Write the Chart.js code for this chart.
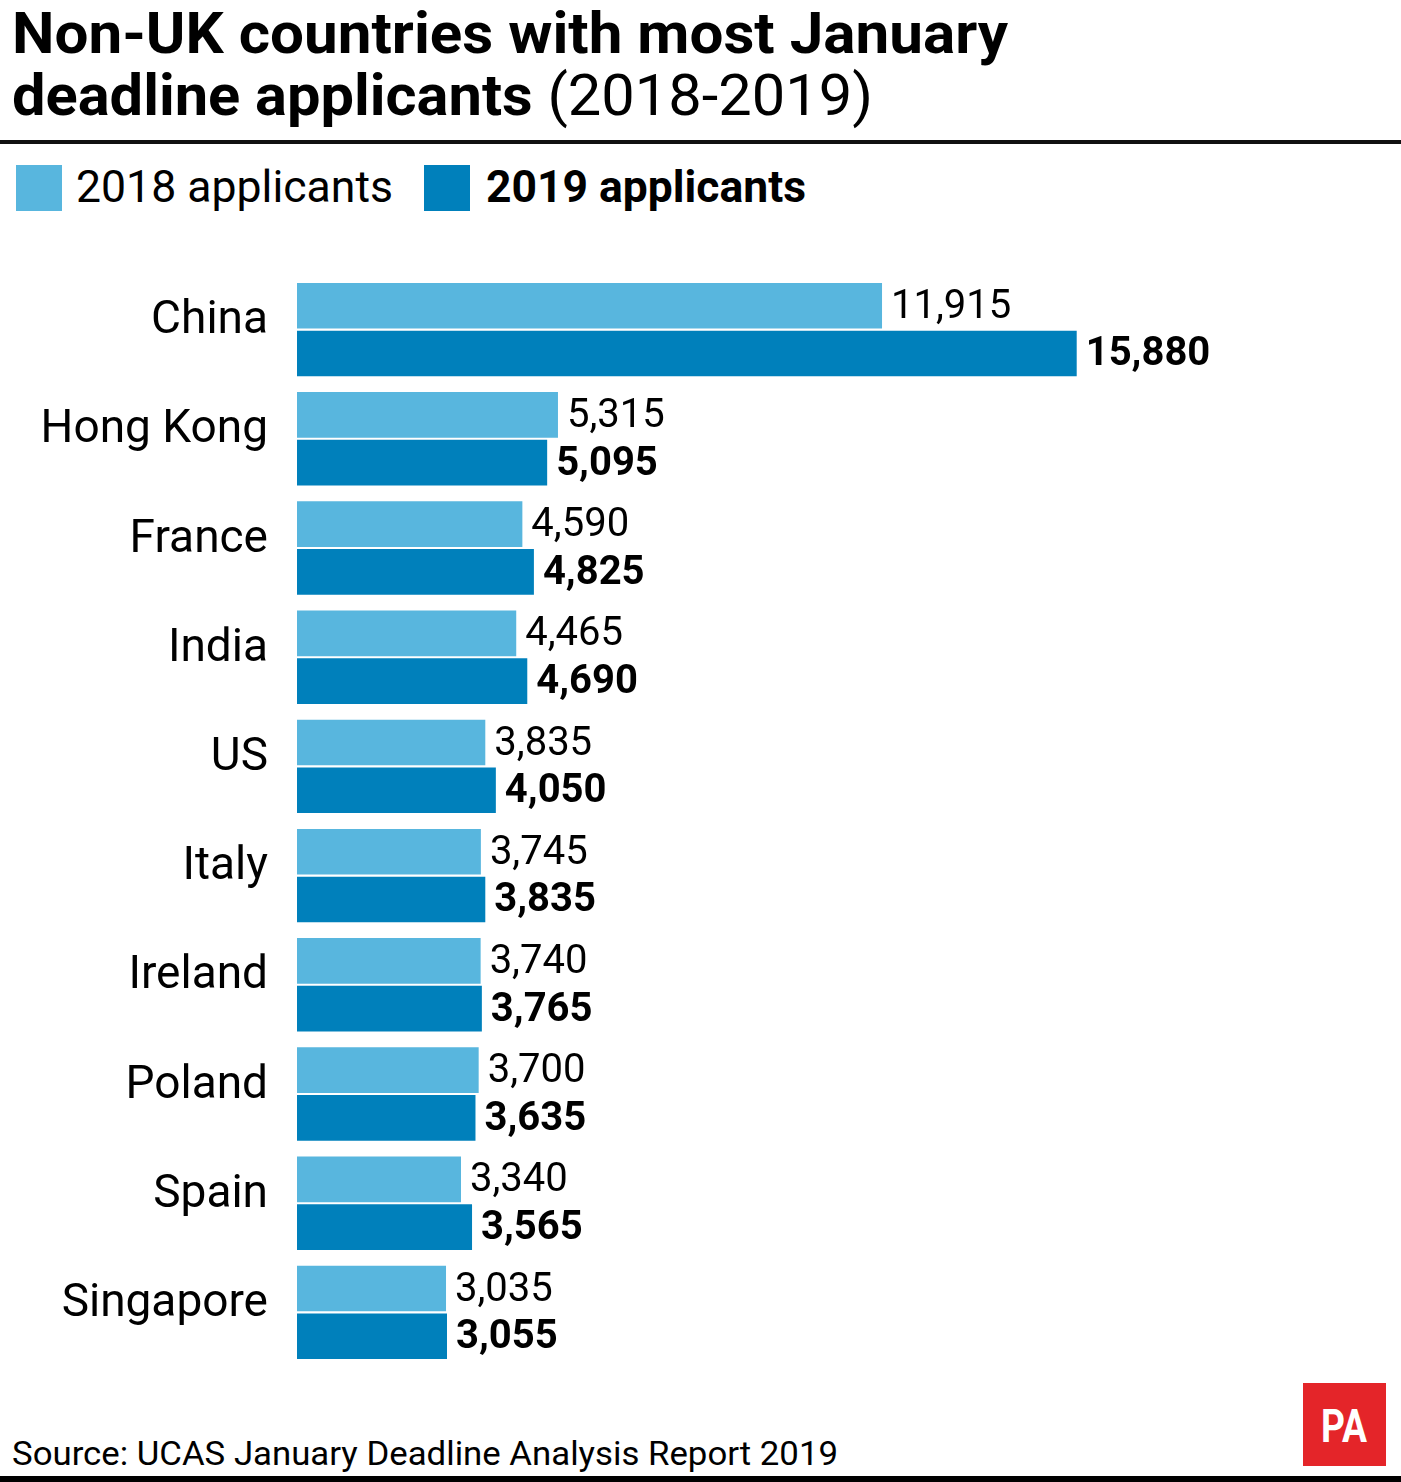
<!DOCTYPE html>
<html>
<head>
<meta charset="utf-8">
<script src="https://cdn.jsdelivr.net/npm/chart.js@4.4.1/dist/chart.umd.min.js"></script>
<style>
  html, body { margin: 0; padding: 0; background: #fff; }
  body { width: 1401px; height: 1482px; position: relative; overflow: hidden; font-family: Roboto, "Open Sans", sans-serif; color: #000; }
  .abs { position: absolute; white-space: nowrap; line-height: 1; }
  .fit { transform-origin: 0 0; display: inline-block; }
  #rule { position: absolute; left: 0; top: 140px; width: 1401px; height: 4px; background: #111; }
  #bottomRule { position: absolute; left: 0; top: 1476px; width: 1401px; height: 6px; background: #000; }
  .sw { position: absolute; width: 46px; height: 46px; }
  #pa { position: absolute; left: 1303px; top: 1383px; width: 83px; height: 83px; background: #e42529; }
  #paText { position: absolute; left: 1321px; top: 1403px; color: #fff; font-weight: 700; font-size: 46px; }
  #chartWrap { position: absolute; left: 0; top: 240px; width: 1401px; height: 1140px; }
</style>
</head>
<body>
<div class="abs fit" id="t1" data-w="996" style="left:12px; top:4px; font-size:58px; font-weight:700;">Non-UK countries with most January</div>
<div class="abs fit" id="t2" data-w="861" style="left:12px; top:66px; font-size:58px;"><span style="font-weight:700;">deadline applicants</span> (2018-2019)</div>
<div id="rule"></div>

<div class="sw" style="left:16px; top:165px; background:#58b6de;"></div>
<div class="abs fit" data-w="317" style="left:76px; top:165px; font-size:44px;" id="lg1"></div>
<div class="sw" style="left:424px; top:165px; background:#0080bb;"></div>
<div class="abs fit" data-w="320" style="left:486px; top:165px; font-size:44px; font-weight:700;" id="lg2"></div>

<div id="chartWrap"><canvas id="c" width="1401" height="1140"></canvas></div>

<div class="abs fit" data-w="826" style="left:12px; top:1436px; font-size:34px;">Source: UCAS January Deadline Analysis Report 2019</div>
<div id="pa"></div>
<div class="abs fit" id="paText" data-w="46">PA</div>
<div id="bottomRule"></div>

<script>
const categories = ["China", "Hong Kong", "France", "India", "US", "Italy", "Ireland", "Poland", "Spain", "Singapore"];
const seriesNames = ["2018 applicants", "2019 applicants"];
const applicants2018 = [11915, 5315, 4590, 4465, 3835, 3745, 3740, 3700, 3340, 3035];
const applicants2019 = [15880, 5095, 4825, 4690, 4050, 3835, 3765, 3635, 3565, 3055];
const colors = ["#58b6de", "#0080bb"];

document.getElementById('lg1').textContent = seriesNames[0];
document.getElementById('lg2').textContent = seriesNames[1];

function fitAll() {
  document.querySelectorAll('.fit').forEach(el => {
    el.style.transform = 'none';
    const w = el.getBoundingClientRect().width;
    const target = parseFloat(el.dataset.w);
    if (w > 0 && target) el.style.transform = 'scaleX(' + (target / w) + ')';
  });
}
fitAll();

const valueLabels = {
  id: 'valueLabels',
  afterDatasetsDraw(chart) {
    const ctx = chart.ctx;
    ctx.save();
    ctx.textBaseline = 'middle';
    ctx.textAlign = 'left';
    ctx.fillStyle = '#000';
    chart.data.datasets.forEach((ds, di) => {
      const meta = chart.getDatasetMeta(di);
      ctx.font = (di === 1 ? '700 ' : '400 ') + '40px Roboto, sans-serif';
      meta.data.forEach((el, i) => {
        ctx.fillText(ds.data[i].toLocaleString('en-GB'), el.x + 9, el.y + 2);
      });
    });
    ctx.restore();
  }
};

new Chart(document.getElementById('c'), {
  type: 'bar',
  data: {
    labels: categories,
    datasets: [
      { label: seriesNames[0], data: applicants2018, backgroundColor: colors[0], barPercentage: 0.955, categoryPercentage: 0.875 },
      { label: seriesNames[1], data: applicants2019, backgroundColor: colors[1], barPercentage: 0.955, categoryPercentage: 0.875 }
    ]
  },
  options: {
    indexAxis: 'y',
    responsive: false,
    animation: false,
    events: [],
    layout: { padding: { left: 0, right: 122, top: 35, bottom: 13 } },
    plugins: { legend: { display: false }, tooltip: { enabled: false } },
    scales: {
      x: { display: false, min: 0, max: 20000 },
      y: {
        grid: { display: false, drawTicks: false },
        border: { display: false },
        ticks: { color: '#000', font: { family: 'Roboto', size: 46 }, padding: 29, labelOffset: -8 },
        afterFit(scale) { scale.width = 297; scale.paddingTop = 0; scale.paddingBottom = 0; }
      }
    }
  },
  plugins: [valueLabels]
});
</script>
</body>
</html>
